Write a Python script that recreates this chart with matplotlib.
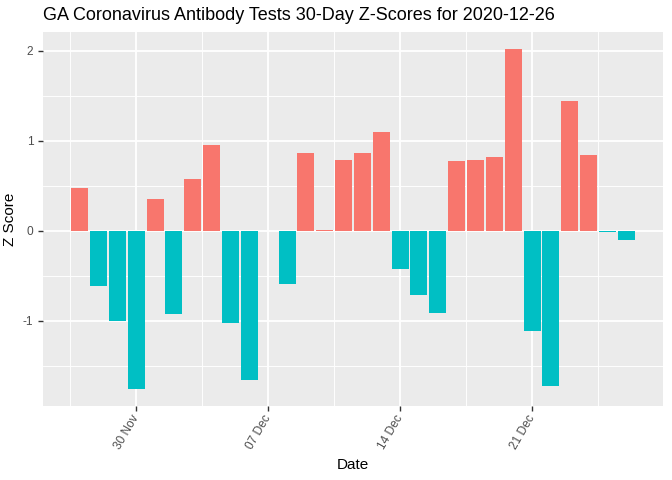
import matplotlib.pyplot as plt
import matplotlib.dates as mdates
import numpy as np
import pandas

dates = ['2020-11-27', '2020-11-28', '2020-11-29', '2020-11-30', '2020-12-01',
         '2020-12-02', '2020-12-03', '2020-12-04', '2020-12-05', '2020-12-06',
         '2020-12-08', '2020-12-09', '2020-12-10', '2020-12-11', '2020-12-12',
         '2020-12-13', '2020-12-14', '2020-12-15', '2020-12-16', '2020-12-17',
         '2020-12-18', '2020-12-19', '2020-12-20', '2020-12-21', '2020-12-22',
         '2020-12-23', '2020-12-24', '2020-12-25', '2020-12-26']
zscores = [0.48, -0.61, -1.00, -1.76, 0.35,
           -0.93, 0.58, 0.95, -1.03, -1.66,
           -0.59, 0.86, 0.01, 0.79, 0.86,
           1.10, -0.43, -0.71, -0.92, 0.78,
           0.79, 0.82, 2.02, -1.12, -1.73,
           1.44, 0.84, -0.02, -0.10]
tick_dates = ['2020-11-30', '2020-12-07', '2020-12-14', '2020-12-21']

x = mdates.date2num(pandas.to_datetime(dates))
z = np.array(zscores)
colors = np.where(z >= 0, '#F8766D', '#00BFC4')

plt.rcParams['font.family'] = ['Liberation Sans', 'DejaVu Sans']
fig = plt.figure(figsize=(6.72, 4.8), dpi=100)
ax = fig.add_axes([43/672, 1-406/480, 620/672, 374/480])
ax.set_facecolor('#EBEBEB')
for s in ax.spines.values():
	s.set_visible(False)

ax.bar(x, z, width=0.9, color=colors, zorder=3)

lo = x.min() - 0.45
hi = x.max() + 0.45
pad = (hi - lo) * 0.05
ax.set_xlim(lo - pad, hi + pad)
ylo, yhi = min(z.min(), 0), max(z.max(), 0)
ypad = (yhi - ylo) * 0.05
ax.set_ylim(ylo - ypad, yhi + ypad)

major = mdates.date2num(pandas.to_datetime(tick_dates))
ax.set_xticks(major)
ax.set_xticks(np.concatenate([[major[0] - 3.5], major + 3.5]), minor=True)
ax.xaxis.set_major_formatter(mdates.DateFormatter('%d %b'))
ax.set_yticks([-1, 0, 1, 2])
ax.set_yticks([-1.5, -0.5, 0.5, 1.5], minor=True)
ax.set_yticklabels(['-1', '0', '1', '2'])

ax.grid(which='major', color='white', linewidth=1.3, zorder=0)
ax.grid(which='minor', color='white', linewidth=0.65, zorder=0)
ax.set_axisbelow(True)
ax.tick_params(which='major', length=3.5, width=1, color='#333333', labelcolor='#4D4D4D', labelsize=8.6)
ax.tick_params(which='minor', length=0)
for lbl in ax.get_xticklabels():
	lbl.set_rotation(60)
	lbl.set_ha('right')
	lbl.set_va('center')
	lbl.set_rotation_mode('anchor')

ax.set_xlabel('Date', fontsize=11, labelpad=5)
ax.set_ylabel('Z Score', fontsize=11, labelpad=4)
fig.text(43/672, 1-15/480, 'GA Coronavirus Antibody Tests 30-Day Z-Scores for 2020-12-26',
	fontsize=13.0, ha='left', va='center')

plt.savefig('out.png', dpi=100)
